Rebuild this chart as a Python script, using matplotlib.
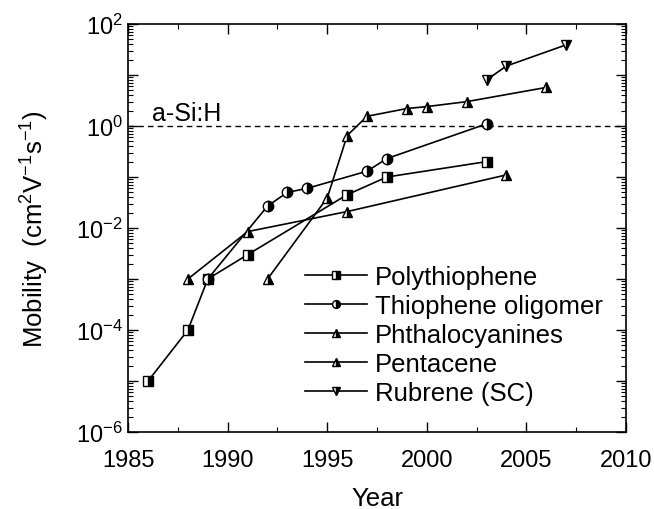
import matplotlib.pyplot as plt
from matplotlib.ticker import LogLocator, NullFormatter, FixedLocator
import numpy as np

plt.rcParams['font.family'] = ['Liberation Sans', 'DejaVu Sans']
plt.rcParams['mathtext.fontset'] = 'custom'
plt.rcParams['mathtext.rm'] = 'Liberation Sans'
plt.rcParams['mathtext.it'] = 'Liberation Sans:italic'

# data
poly_year = [1986, 1988, 1989, 1991, 1996, 1998, 2003]
poly_mu = [1e-5, 1e-4, 1e-3, 3e-3, 0.045, 0.1, 0.2]

olig_year = [1989, 1992, 1993, 1994, 1997, 1998, 2003]
olig_mu = [1e-3, 0.027, 0.05, 0.06, 0.13, 0.23, 1.1]

phth_year = [1988, 1991, 1996, 2004]
phth_mu = [1e-3, 0.0085, 0.021, 0.11]

pent_year = [1992, 1995, 1996, 1997, 1999, 2000, 2002, 2006]
pent_mu = [1e-3, 0.039, 0.65, 1.55, 2.2, 2.4, 3.0, 5.7]

rub_year = [2003, 2004, 2007]
rub_mu = [8, 15, 39]

fig = plt.figure(figsize=(6.54, 5.10), dpi=100)
ax = fig.add_axes([0.196, 0.151, 0.761, 0.80])

common = dict(color='black', lw=1.2, ms=7.5, mfc='black', mfcalt='white',
              mec='black', mew=1.0, fillstyle='right')
ax.plot(poly_year, poly_mu, marker='s', label='Polythiophene', **common)
ax.plot(olig_year, olig_mu, marker='o', label='Thiophene oligomer', **common)
ax.plot(phth_year, phth_mu, marker='^', label='Phthalocyanines', **common)
ax.plot(pent_year, pent_mu, marker='^', label='Pentacene', **common)
ax.plot(rub_year, rub_mu, marker='v', label='Rubrene (SC)', **common)

ax.axhline(1, color='black', lw=1, ls=(0, (4, 3)))
ax.text(1986.2, 1.3, 'a-Si:H', fontsize=18, va='baseline')

ax.set_yscale('log')
ax.set_xlim(1985, 2010)
ax.set_ylim(1e-6, 1e2)

ax.set_xticks(np.arange(1985, 2011, 5))
ax.set_xticks(np.arange(1987.5, 2010, 5), minor=True)
ax.yaxis.set_major_locator(FixedLocator([10.0**k for k in range(-6, 3)]))
ax.yaxis.set_minor_locator(LogLocator(base=10, subs=np.arange(2, 10), numticks=20))
ax.yaxis.set_minor_formatter(NullFormatter())
ax.set_yticklabels(['$10^{%d}$' % k if k % 2 == 0 else '' for k in range(-6, 3)])

ax.tick_params(which='both', direction='in', top=True, right=True, labelsize=17)
ax.tick_params(which='major', length=7, width=1)
ax.tick_params(which='minor', length=3.5, width=0.8)
ax.tick_params(axis='x', pad=12)
ax.tick_params(axis='y', pad=4)
for s in ax.spines.values():
    s.set_linewidth(1.2)

ax.set_xlabel('Year', fontsize=18.5, labelpad=11)
ax.set_ylabel('Mobility  (cm$^{2}$V$^{-1}$s$^{-1}$)', fontsize=18.5, labelpad=18)

ax.legend(loc='upper left', bbox_to_anchor=(0.356, 0.41), frameon=False,
          fontsize=18.5, handlelength=2.4, labelspacing=0.2, handletextpad=0.3,
          markerscale=0.75, borderaxespad=0, borderpad=0)

fig.savefig('out.png', dpi=100)
